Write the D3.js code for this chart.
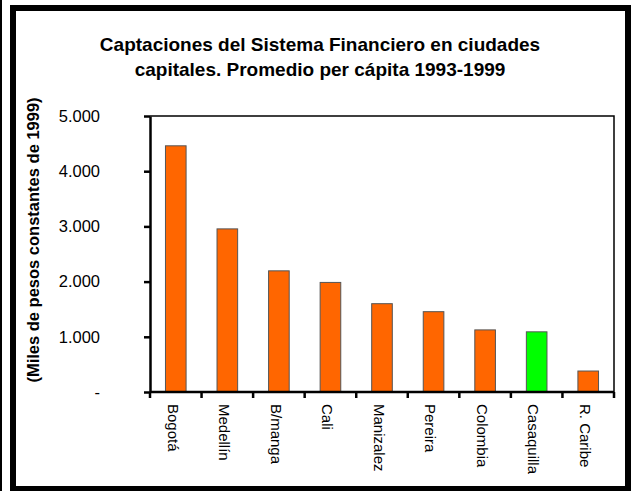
<!DOCTYPE html>
<html>
<head>
<meta charset="utf-8">
<script src="https://d3js.org/d3.v7.min.js"></script>
<style>
  body { margin: 0; background: #fff; }
  text { font-family: "Liberation Sans", Arial, sans-serif; }
</style>
</head>
<body>
<svg id="chart" width="632" height="491"></svg>
<script>
// datos del gráfico
const ciudades = ['Bogotá', 'Medellín', 'B/manga', 'Cali', 'Manizalez', 'Pereira', 'Colombia', 'Casaquilla', 'R. Caribe'];
const captaciones = [4460, 2955, 2195, 1985, 1600, 1455, 1125, 1090, 380];
const destacada = 'Casaquilla';
const yTicks = [0, 1000, 2000, 3000, 4000, 5000];

const svg = d3.select('#chart');
const margin = { top: 116, right: 18, bottom: 99, left: 150 };
const width = 632 - margin.left - margin.right;
const height = 491 - margin.top - margin.bottom;

// marco exterior
svg.append('rect').attr('x', 0).attr('y', 0).attr('width', 2).attr('height', 491).attr('fill', '#000');
svg.append('rect')
  .attr('x', 13).attr('y', 8)
  .attr('width', 615).attr('height', 481)
  .attr('fill', 'none').attr('stroke', '#000').attr('stroke-width', 6);

// título
svg.append('text')
  .attr('x', 320).attr('y', 51)
  .attr('text-anchor', 'middle')
  .style('font-size', '19px').style('font-weight', 'bold')
  .text('Captaciones del Sistema Financiero en ciudades');
svg.append('text')
  .attr('x', 320).attr('y', 76)
  .attr('text-anchor', 'middle')
  .style('font-size', '19px').style('font-weight', 'bold')
  .text('capitales. Promedio per cápita 1993-1999');

const g = svg.append('g').attr('transform', `translate(${margin.left},${margin.top})`);

const x = d3.scaleBand().domain(ciudades).range([0, width]).paddingInner(0.6).paddingOuter(0.3);
const y = d3.scaleLinear().domain([0, 5000]).range([height, 0]);

// borde del área de trazado
g.append('path')
  .attr('d', `M0,0H${width}V${height}`)
  .attr('fill', 'none').attr('stroke', '#000').attr('stroke-width', 1.5);

// barras
g.selectAll('.bar')
  .data(ciudades)
  .join('rect')
  .attr('class', 'bar')
  .attr('x', (d) => x(d))
  .attr('y', (d, i) => y(captaciones[i]))
  .attr('width', x.bandwidth())
  .attr('height', (d, i) => height - y(captaciones[i]))
  .attr('fill', (d) => (d === destacada ? '#00FF00' : '#FF6600'))
  .attr('stroke', '#555').attr('stroke-width', 1);

// eje y
const fmt = (v) => (v === 0 ? '-' : d3.format(',')(v).replace(',', '.'));
const yAxis = g.append('g').call(d3.axisLeft(y).tickValues(yTicks).tickFormat(fmt).tickSize(6).tickSizeOuter(0));
yAxis.select('.domain').attr('stroke-width', 2.5);
yAxis.selectAll('.tick line').attr('stroke-width', 2.5);
yAxis.selectAll('.tick text').attr('x', -50).style('font-size', '16.5px').attr('fill', '#000');

// eje x con marcas en los límites de categoría
const bounds = d3.range(ciudades.length + 1).map((i) => i * width / ciudades.length);
const xg = g.append('g').attr('transform', `translate(0,${height})`);
xg.append('line').attr('x1', 0).attr('x2', width).attr('stroke', '#000').attr('stroke-width', 2.5);
xg.selectAll('.xt')
  .data(bounds)
  .join('line')
  .attr('class', 'xt')
  .attr('x1', (d) => d).attr('x2', (d) => d)
  .attr('y1', 0).attr('y2', 6)
  .attr('stroke', '#000').attr('stroke-width', 2.5);
xg.selectAll('.xl')
  .data(ciudades)
  .join('text')
  .attr('class', 'xl')
  .attr('transform', (d) => `translate(${x(d) + x.bandwidth() / 2 - 3},12) rotate(90)`)
  .attr('dy', '0.35em')
  .style('font-size', '15px')
  .text((d) => d);

// título del eje y
svg.append('text')
  .attr('transform', 'translate(39,240) rotate(-90)')
  .attr('text-anchor', 'middle')
  .style('font-size', '16.5px').style('font-weight', 'bold')
  .text('(Miles de pesos constantes de 1999)');
</script>
</body>
</html>
